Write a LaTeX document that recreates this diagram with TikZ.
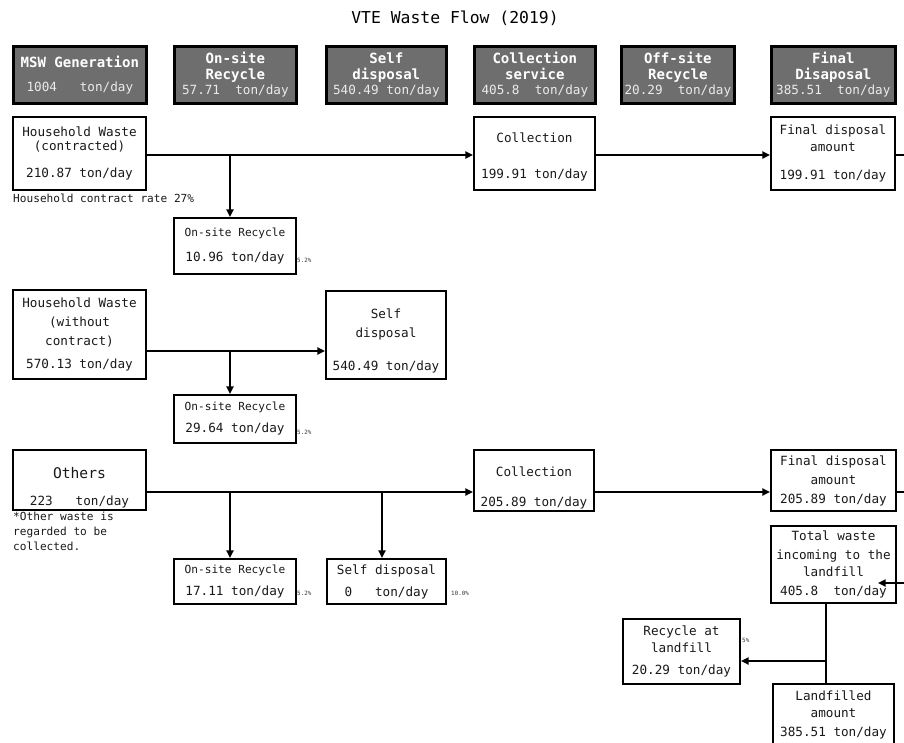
\documentclass[tikz,border=0pt]{standalone}
\usepackage{fontspec}
\setmonofont{DejaVu Sans Mono}
\usepackage{xcolor}
\usepackage{tikz}
\usetikzlibrary{
    arrows.meta,
    positioning,
    calc,
}

\newdimen\pxu \pxu=0.3mm
\newcommand{\hnum}[1]{{\mdseries\fontsize{10.8}{13.7}\selectfont\color{black!8}#1}}
\newcommand{\rcfont}{\fontsize{9.5}{12}\selectfont}

\begin{document}
\begin{tikzpicture}[
        x=0.3mm, y=-0.3mm,
        >={Triangle[length=6.5pt, width=6pt]},
        box/.style 2 args={
            rectangle, draw=black, line width=1.7pt, fill=white,
            anchor=north west, inner sep=0pt, align=center,
            minimum width=#1\pxu, minimum height=#2\pxu,
            font=\ttfamily\fontsize{10.8}{12}\selectfont, text=black!90
        },
        head/.style 2 args={
            box={#1}{#2}, fill=black!57, line width=2.3pt, text=white,
            font=\ttfamily\bfseries\fontsize{12}{13.7}\selectfont
        },
        arrow/.style={->, line width=1.7pt},
        line/.style={line width=1.7pt},
        note/.style={anchor=north west, inner sep=0pt, align=left,
            font=\ttfamily\fontsize{9.5}{12.8}\selectfont, text=black!90},
        pct/.style={anchor=west, inner sep=0pt,
            font=\ttfamily\fontsize{5}{6}\selectfont, text=black!80},
    ]

    \useasboundingbox (0,0) rectangle (904,742);
    \clip (0,0) rectangle (904,742);

    % ── Title ──
    \node[font=\ttfamily\fontsize{14}{16}\selectfont] (title) at (455,18)
        {VTE Waste Flow (2019)};

    % ── Header row ──
    \node[head={133}{57}] (hgen) at (12,45)
        {MSW Generation\\[6.5pt]\hnum{1004~~~ton/day}};
    \node[head={122}{57}] (hons) at (173,45)
        {On-site\\Recycle\\[-0.9pt]\hnum{57.71~~ton/day}};
    \node[head={120}{57}] (hself) at (325,45)
        {Self\\disposal\\[-0.9pt]\hnum{540.49 ton/day}};
    \node[head={121}{57}] (hcoll) at (473,45)
        {Collection\\service\\[-0.9pt]\hnum{405.8~~ton/day}};
    \node[head={113}{57}] (hoff) at (620,45)
        {Off-site\\Recycle\\[-0.9pt]\hnum{20.29~~ton/day}};
    \node[head={124}{57}] (hfin) at (770,45)
        {Final\\Disaposal\\[-0.9pt]\hnum{385.51~~ton/day}};

    % ── Household waste (contracted) ──
    \node[box={133}{73}] (hwc) at (12,116)
        {Household Waste\\(contracted)\\[11pt]210.87 ton/day};
    \node[note] (rate) at (13,194) {Household contract rate 27\%};
    \node[box={122}{56}] (onc) at (173,217)
        {\rcfont On-site Recycle\\[9pt]10.96 ton/day};
    \node[box={121}{73}] (coll1) at (473,116)
        {\rule{0pt}{15pt}Collection\\[18.7pt]199.91 ton/day};
    \node[box={124}{73}] (fin1) at (770,116)
        {Final disposal\\[2.5pt]amount\\[11.9pt]199.91 ton/day};

    % ── Household waste (without contract) ──
    \node[box={133}{89}] (hwn) at (12,289)
        {Household Waste\\[4.2pt](without\\[4.2pt]contract)\\[7.6pt]570.13 ton/day};
    \node[box={120}{88}] (self2) at (325,290)
        {\rule{0pt}{18pt}Self\\[4.2pt]disposal\\[16.2pt]540.49 ton/day};
    \node[box={122}{48}] (onn) at (173,394)
        {\rcfont On-site Recycle\\[6.8pt]29.64 ton/day};

    % ── Others ──
    \node[box={133}{60}] (oth) at (12,449)
        {\fontsize{12.5}{14}\selectfont\rule{0pt}{23pt}Others\\[11pt]223~~~ton/day};
    \node[note] (othnote) at (13,512)
        {*Other waste is\\regarded to be\\collected.};
    \node[box={122}{45}] (on3) at (173,558)
        {\rcfont On-site Recycle\\[6.8pt]17.11 ton/day};
    \node[box={119}{45}] (sd3) at (326,558)
        {Self disposal\\[6.8pt]0~~~ton/day};
    \node[box={120}{61}] (coll3) at (473,449)
        {\rule{0pt}{21pt}Collection\\[13.6pt]205.89 ton/day};
    \node[box={125}{61}] (fin3) at (770,449)
        {Final disposal\\[4.2pt]amount\\[4.2pt]205.89 ton/day};

    % ── Landfill ──
    \node[box={125}{77}] (total) at (770,525)
        {Total waste\\[4.2pt]incoming to the\\[2.5pt]landfill\\[4.2pt]405.8~~ton/day};
    \node[box={117}{65}] (rec) at (622,618)
        {Recycle at\\[2.5pt]landfill\\[6.8pt]20.29 ton/day};
    \node[box={121}{62}] (land) at (772,683)
        {Landfilled\\[2.5pt]amount\\[5pt]385.51 ton/day};

    % ── Shares ──
    \node[pct] at (297,260) {5.2\%};
    \node[pct] at (297,432) {5.2\%};
    \node[pct] at (297,593) {5.2\%};
    \node[pct] at (451,593) {10.0\%};
    \node[pct] at (742,640) {5\%};

    % ── Junctions ──
    \coordinate (rim) at (904,0);
    \coordinate (j1) at (230,155);
    \coordinate (j2) at (230,351);
    \coordinate (j3a) at (230,492);
    \coordinate (j3b) at (382,492);
    \coordinate (j4) at (826,661);
    \coordinate (tin) at (878,583);

    % ── Arrows ──
    \draw[arrow] (hwc.east |- j1) -- (coll1.west |- j1);
    \draw[arrow] (j1) -- (j1 |- onc.north);
    \draw[arrow] (coll1.east |- j1) -- (fin1.west |- j1);
    \draw[line] (fin1.east |- j1) -- (rim |- j1);

    \draw[arrow] (hwn.east |- j2) -- (self2.west |- j2);
    \draw[arrow] (j2) -- (j2 |- onn.north);

    \draw[arrow] (oth.east |- j3a) -- (coll3.west |- j3a);
    \draw[arrow] (j3a) -- (j3a |- on3.north);
    \draw[arrow] (j3b) -- (j3b |- sd3.north);
    \draw[arrow] (coll3.east |- j3a) -- (fin3.west |- j3a);
    \draw[line] (fin3.east |- j3a) -- (rim |- j3a);

    \draw[arrow] (rim |- tin) -- (tin);
    \draw[line] (j4 |- total.south) -- (j4 |- land.north);
    \draw[arrow] (j4) -- (rec.east |- j4);

\end{tikzpicture}
\end{document}
